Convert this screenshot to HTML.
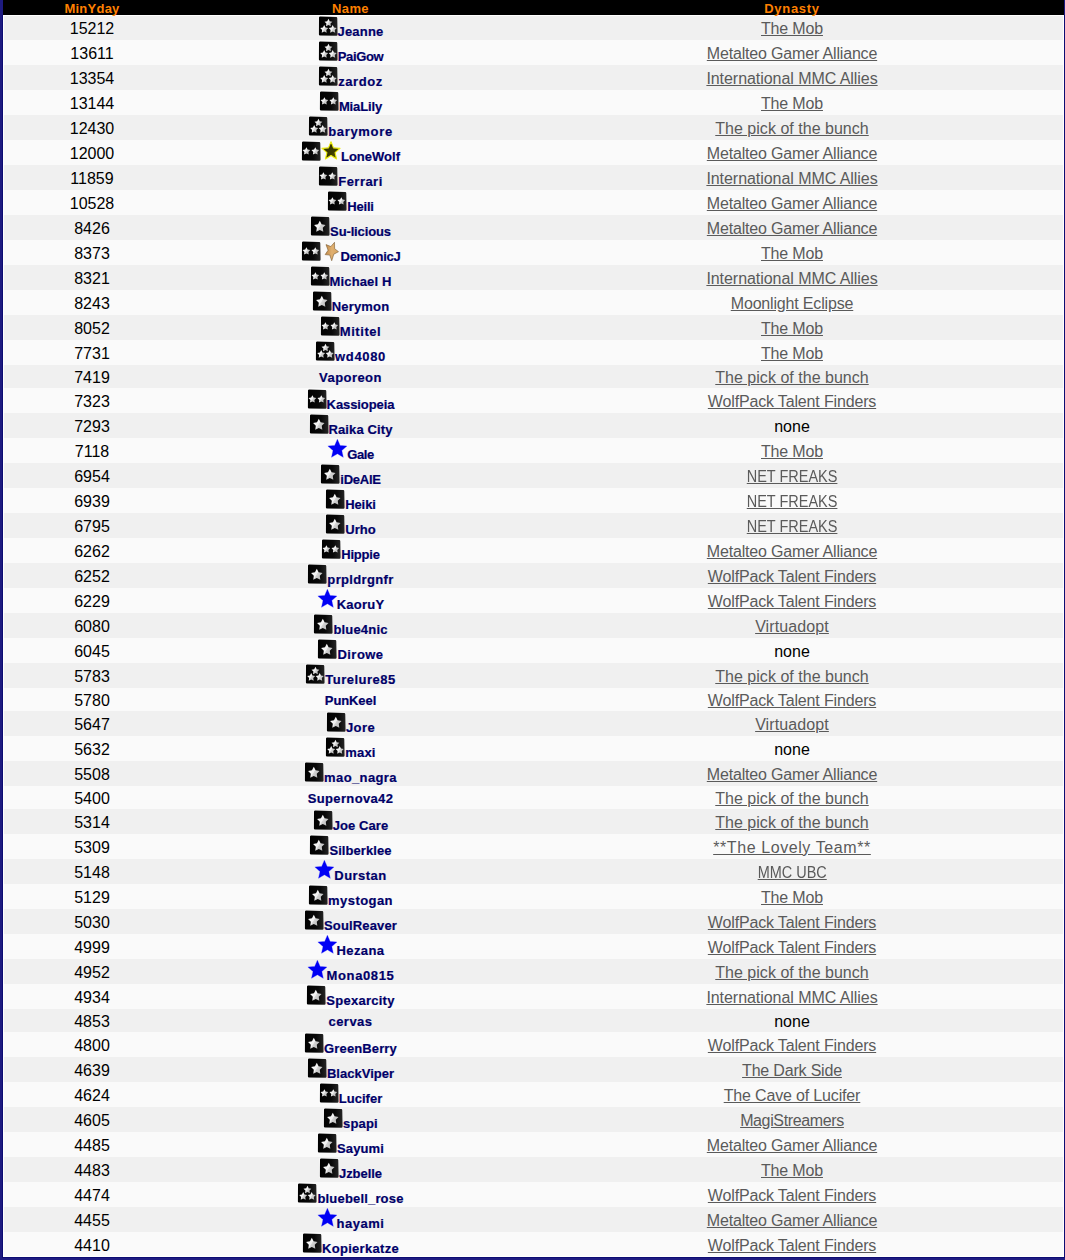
<!DOCTYPE html>
<html><head><meta charset="utf-8"><title>MinYday</title><style>
*{margin:0;padding:0;box-sizing:border-box}
html,body{width:1065px;height:1260px;overflow:hidden;background:#1e1b80}
body{position:relative;font-family:"Liberation Sans",sans-serif}
#dk{position:absolute;left:2px;top:15px;width:1063px;height:1243px;background:#0d0c72}
#wrap{position:absolute;left:3px;top:0;width:1061px;height:1257px;background:#fff}
#hd{position:absolute;left:3px;top:0;width:1061px;height:15px;background:#000;color:#ff8000;font-weight:bold;font-size:13px;line-height:15px;display:flex}
#hd div{text-align:center;height:15px;padding-top:1px}
#hd .h1{letter-spacing:.25px}#hd .h2{letter-spacing:.35px}#hd .h3{letter-spacing:.7px}
#rows{position:absolute;left:3px;top:15px;width:1061px}
.r{display:flex;width:1061px}
.o{background:#f0f0f0}.e{background:#fafafa}
.ri{height:25px}.rn{height:23px}
.c1,.h1{width:178px}.c2,.h2{width:339px}.c3,.h3{width:544px}
.c1,.c3{text-align:center;font-size:16px;color:#000;white-space:nowrap}
.ri .c1,.ri .c3{line-height:25px;padding-top:1px}
.rn .c1,.rn .c3{line-height:23px;padding-top:1px}
.c3 a{color:#5a5a5a;text-decoration:underline}
.c2{text-align:center;white-space:nowrap;font-size:13px;color:#000068}
.c2 b{-webkit-text-stroke:.2px #000068}

.ri .c2{line-height:20px;padding-top:1px}
.rn .c2{line-height:23px;padding-top:1px}
.ic{width:20px;height:20px;vertical-align:baseline;display:inline-block}
#fr{position:absolute;left:3px;top:15px;width:1061px;height:1242px;border:1px solid #fff;pointer-events:none}
</style></head>
<body>
<svg width="0" height="0" style="position:absolute">
<defs>
<filter id="bl" x="-20%" y="-20%" width="140%" height="140%"><feGaussianBlur stdDeviation="0.35"/></filter>
<linearGradient id="bg" x1="0" y1="0" x2="1" y2="0"><stop offset="0" stop-color="#000"/><stop offset="0.6" stop-color="#080808"/><stop offset="1" stop-color="#262626"/></linearGradient>
<linearGradient id="sg" x1="0" y1="0.2" x2="1" y2="0.8"><stop offset="0" stop-color="#fbfbfb"/><stop offset="0.48" stop-color="#f0f0f0"/><stop offset="0.52" stop-color="#d6d6d6"/><stop offset="1" stop-color="#b4b4b4"/></linearGradient>
<symbol id="sq" viewBox="0 0 20 20" overflow="visible"><path d="M0.3 0 L19.8 0.4 L20.2 20.3 L0.2 20.2 Z" fill="#fff" opacity=".55"/><path d="M1.0 1.5 Q1.1 0.6 2.2 0.6 L18.2 1.0 Q19.3 1.1 19.3 2.2 L19.6 18.6 Q19.6 19.8 18.5 19.8 L2.0 19.5 Q0.9 19.4 0.9 18.4 Z" fill="url(#bg)"/></symbol>
<symbol id="st" viewBox="-1 -1 2 2"><path d="M0,-1 L0.235,-0.324 L0.951,-0.309 L0.380,0.124 L0.588,0.809 L0,0.4 L-0.588,0.809 L-0.380,0.124 L-0.951,-0.309 L-0.235,-0.324 Z" fill="url(#sg)"/></symbol>
</defs></svg>

<div id="dk"></div>
<div id="wrap"></div>
<div id="rows"><div class="r o ri"><div class="c1">15212</div><div class="c2"><svg class="ic" viewBox="0 0 20 20"><use href="#sq" x="0" y="0" width="20" height="20"/><path d="M10.45,2.80 L11.70,5.18 L14.35,5.63 L12.48,7.56 L12.86,10.22 L10.45,9.03 L8.04,10.22 L8.42,7.56 L6.55,5.63 L9.20,5.18Z" fill="url(#sg)"/><path d="M6.20,9.10 L7.48,11.53 L10.19,12.00 L8.28,13.97 L8.67,16.70 L6.20,15.48 L3.73,16.70 L4.12,13.97 L2.21,12.00 L4.92,11.53Z" fill="url(#sg)"/><path d="M14.70,9.10 L15.98,11.53 L18.69,12.00 L16.78,13.97 L17.17,16.70 L14.70,15.48 L12.23,16.70 L12.62,13.97 L10.71,12.00 L13.42,11.53Z" fill="url(#sg)"/></svg><b style="letter-spacing:0.18px">Jeanne</b></div><div class="c3"><a style="letter-spacing:-0.17px">The Mob</a></div></div><div class="r e ri"><div class="c1">13611</div><div class="c2"><svg class="ic" viewBox="0 0 20 20"><use href="#sq" x="0" y="0" width="20" height="20"/><path d="M10.45,2.80 L11.70,5.18 L14.35,5.63 L12.48,7.56 L12.86,10.22 L10.45,9.03 L8.04,10.22 L8.42,7.56 L6.55,5.63 L9.20,5.18Z" fill="url(#sg)"/><path d="M6.20,9.10 L7.48,11.53 L10.19,12.00 L8.28,13.97 L8.67,16.70 L6.20,15.48 L3.73,16.70 L4.12,13.97 L2.21,12.00 L4.92,11.53Z" fill="url(#sg)"/><path d="M14.70,9.10 L15.98,11.53 L18.69,12.00 L16.78,13.97 L17.17,16.70 L14.70,15.48 L12.23,16.70 L12.62,13.97 L10.71,12.00 L13.42,11.53Z" fill="url(#sg)"/></svg><b style="letter-spacing:-0.34px">PaiGow</b></div><div class="c3"><a style="letter-spacing:-0.172px">Metalteo Gamer Alliance</a></div></div><div class="r o ri"><div class="c1">13354</div><div class="c2"><svg class="ic" viewBox="0 0 20 20"><use href="#sq" x="0" y="0" width="20" height="20"/><path d="M10.45,2.80 L11.70,5.18 L14.35,5.63 L12.48,7.56 L12.86,10.22 L10.45,9.03 L8.04,10.22 L8.42,7.56 L6.55,5.63 L9.20,5.18Z" fill="url(#sg)"/><path d="M6.20,9.10 L7.48,11.53 L10.19,12.00 L8.28,13.97 L8.67,16.70 L6.20,15.48 L3.73,16.70 L4.12,13.97 L2.21,12.00 L4.92,11.53Z" fill="url(#sg)"/><path d="M14.70,9.10 L15.98,11.53 L18.69,12.00 L16.78,13.97 L17.17,16.70 L14.70,15.48 L12.23,16.70 L12.62,13.97 L10.71,12.00 L13.42,11.53Z" fill="url(#sg)"/></svg><b style="letter-spacing:0.54px">zardoz</b></div><div class="c3"><a style="letter-spacing:-0.053px">International MMC Allies</a></div></div><div class="r e ri"><div class="c1">13144</div><div class="c2"><svg class="ic" viewBox="0 0 20 20"><use href="#sq" x="0" y="0" width="20" height="20"/><path d="M5.40,6.25 L6.64,8.60 L9.25,9.05 L7.40,10.95 L7.78,13.58 L5.40,12.41 L3.02,13.58 L3.40,10.95 L1.55,9.05 L4.16,8.60Z" fill="url(#sg)"/><path d="M14.30,6.25 L15.54,8.60 L18.15,9.05 L16.30,10.95 L16.68,13.58 L14.30,12.41 L11.92,13.58 L12.30,10.95 L10.45,9.05 L13.06,8.60Z" fill="url(#sg)"/></svg><b style="letter-spacing:-0.133px">MiaLily</b></div><div class="c3"><a style="letter-spacing:-0.17px">The Mob</a></div></div><div class="r o ri"><div class="c1">12430</div><div class="c2"><svg class="ic" viewBox="0 0 20 20"><use href="#sq" x="0" y="0" width="20" height="20"/><path d="M10.45,2.80 L11.70,5.18 L14.35,5.63 L12.48,7.56 L12.86,10.22 L10.45,9.03 L8.04,10.22 L8.42,7.56 L6.55,5.63 L9.20,5.18Z" fill="url(#sg)"/><path d="M6.20,9.10 L7.48,11.53 L10.19,12.00 L8.28,13.97 L8.67,16.70 L6.20,15.48 L3.73,16.70 L4.12,13.97 L2.21,12.00 L4.92,11.53Z" fill="url(#sg)"/><path d="M14.70,9.10 L15.98,11.53 L18.69,12.00 L16.78,13.97 L17.17,16.70 L14.70,15.48 L12.23,16.70 L12.62,13.97 L10.71,12.00 L13.42,11.53Z" fill="url(#sg)"/></svg><b style="letter-spacing:0.671px">barymore</b></div><div class="c3"><a style="letter-spacing:0.023px">The pick of the bunch</a></div></div><div class="r e ri"><div class="c1">12000</div><div class="c2"><svg class="ic" viewBox="0 0 20 20"><use href="#sq" x="0" y="0" width="20" height="20"/><path d="M5.40,6.25 L6.64,8.60 L9.25,9.05 L7.40,10.95 L7.78,13.58 L5.40,12.41 L3.02,13.58 L3.40,10.95 L1.55,9.05 L4.16,8.60Z" fill="url(#sg)"/><path d="M14.30,6.25 L15.54,8.60 L18.15,9.05 L16.30,10.95 L16.68,13.58 L14.30,12.41 L11.92,13.58 L12.30,10.95 L10.45,9.05 L13.06,8.60Z" fill="url(#sg)"/></svg><svg class="ic" viewBox="0 0 20 20" overflow="visible"><defs><linearGradient id="yg" x1="0" y1="0" x2="1" y2="1"><stop offset="0" stop-color="#2c2c00"/><stop offset=".6" stop-color="#3c3c00"/><stop offset="1" stop-color="#6a6a08"/></linearGradient></defs><path d="M10.00,0.80 L12.51,6.84 L19.04,7.36 L14.07,11.62 L15.58,17.99 L10.00,14.58 L4.42,17.99 L5.93,11.62 L0.96,7.36 L7.49,6.84Z" fill="url(#yg)" stroke="#eeee10" stroke-width="1.1" stroke-linejoin="round"/></svg><b style="letter-spacing:0.014px">LoneWolf</b></div><div class="c3"><a style="letter-spacing:-0.172px">Metalteo Gamer Alliance</a></div></div><div class="r o ri"><div class="c1">11859</div><div class="c2"><svg class="ic" viewBox="0 0 20 20"><use href="#sq" x="0" y="0" width="20" height="20"/><path d="M5.40,6.25 L6.64,8.60 L9.25,9.05 L7.40,10.95 L7.78,13.58 L5.40,12.41 L3.02,13.58 L3.40,10.95 L1.55,9.05 L4.16,8.60Z" fill="url(#sg)"/><path d="M14.30,6.25 L15.54,8.60 L18.15,9.05 L16.30,10.95 L16.68,13.58 L14.30,12.41 L11.92,13.58 L12.30,10.95 L10.45,9.05 L13.06,8.60Z" fill="url(#sg)"/></svg><b style="letter-spacing:0.467px">Ferrari</b></div><div class="c3"><a style="letter-spacing:-0.053px">International MMC Allies</a></div></div><div class="r e ri"><div class="c1">10528</div><div class="c2"><svg class="ic" viewBox="0 0 20 20"><use href="#sq" x="0" y="0" width="20" height="20"/><path d="M5.40,6.25 L6.64,8.60 L9.25,9.05 L7.40,10.95 L7.78,13.58 L5.40,12.41 L3.02,13.58 L3.40,10.95 L1.55,9.05 L4.16,8.60Z" fill="url(#sg)"/><path d="M14.30,6.25 L15.54,8.60 L18.15,9.05 L16.30,10.95 L16.68,13.58 L14.30,12.41 L11.92,13.58 L12.30,10.95 L10.45,9.05 L13.06,8.60Z" fill="url(#sg)"/></svg><b style="letter-spacing:-0.225px">Heili</b></div><div class="c3"><a style="letter-spacing:-0.172px">Metalteo Gamer Alliance</a></div></div><div class="r o ri"><div class="c1">8426</div><div class="c2"><svg class="ic" viewBox="0 0 20 20"><use href="#sq" x="0" y="0" width="20" height="20"/><path d="M9.80,4.85 L11.63,8.33 L15.51,9.00 L12.77,11.81 L13.33,15.70 L9.80,13.97 L6.27,15.70 L6.83,11.81 L4.09,9.00 L7.97,8.33Z" fill="url(#sg)"/></svg><b style="letter-spacing:-0.133px">Su-licious</b></div><div class="c3"><a style="letter-spacing:-0.172px">Metalteo Gamer Alliance</a></div></div><div class="r e ri"><div class="c1">8373</div><div class="c2"><svg class="ic" viewBox="0 0 20 20"><use href="#sq" x="0" y="0" width="20" height="20"/><path d="M5.40,6.25 L6.64,8.60 L9.25,9.05 L7.40,10.95 L7.78,13.58 L5.40,12.41 L3.02,13.58 L3.40,10.95 L1.55,9.05 L4.16,8.60Z" fill="url(#sg)"/><path d="M14.30,6.25 L15.54,8.60 L18.15,9.05 L16.30,10.95 L16.68,13.58 L14.30,12.41 L11.92,13.58 L12.30,10.95 L10.45,9.05 L13.06,8.60Z" fill="url(#sg)"/></svg><svg class="ic" viewBox="0 0 20 20" overflow="visible"><defs><linearGradient id="gg" x1="0" y1="0" x2="1" y2="0"><stop offset="0" stop-color="#c08a4a"/><stop offset=".5" stop-color="#e0b070"/><stop offset="1" stop-color="#d8a460"/></linearGradient></defs><path d="M13.50,1.30 L13.62,7.68 L17.50,10.70 L12.78,13.20 L10.70,19.70 L8.79,14.07 L4.20,13.60 L7.08,9.24 L5.00,3.60 L9.87,5.55Z" fill="url(#gg)" stroke="#7a5a30" stroke-width=".6" stroke-linejoin="round"/></svg><b style="letter-spacing:-0.271px">DemonicJ</b></div><div class="c3"><a style="letter-spacing:-0.17px">The Mob</a></div></div><div class="r o ri"><div class="c1">8321</div><div class="c2"><svg class="ic" viewBox="0 0 20 20"><use href="#sq" x="0" y="0" width="20" height="20"/><path d="M5.40,6.25 L6.64,8.60 L9.25,9.05 L7.40,10.95 L7.78,13.58 L5.40,12.41 L3.02,13.58 L3.40,10.95 L1.55,9.05 L4.16,8.60Z" fill="url(#sg)"/><path d="M14.30,6.25 L15.54,8.60 L18.15,9.05 L16.30,10.95 L16.68,13.58 L14.30,12.41 L11.92,13.58 L12.30,10.95 L10.45,9.05 L13.06,8.60Z" fill="url(#sg)"/></svg><b style="letter-spacing:0.125px">Michael H</b></div><div class="c3"><a style="letter-spacing:-0.053px">International MMC Allies</a></div></div><div class="r e ri"><div class="c1">8243</div><div class="c2"><svg class="ic" viewBox="0 0 20 20"><use href="#sq" x="0" y="0" width="20" height="20"/><path d="M9.80,4.85 L11.63,8.33 L15.51,9.00 L12.77,11.81 L13.33,15.70 L9.80,13.97 L6.27,15.70 L6.83,11.81 L4.09,9.00 L7.97,8.33Z" fill="url(#sg)"/></svg><b style="letter-spacing:0.183px">Nerymon</b></div><div class="c3"><a style="letter-spacing:-0.171px">Moonlight Eclipse</a></div></div><div class="r o ri"><div class="c1">8052</div><div class="c2"><svg class="ic" viewBox="0 0 20 20"><use href="#sq" x="0" y="0" width="20" height="20"/><path d="M5.40,6.25 L6.64,8.60 L9.25,9.05 L7.40,10.95 L7.78,13.58 L5.40,12.41 L3.02,13.58 L3.40,10.95 L1.55,9.05 L4.16,8.60Z" fill="url(#sg)"/><path d="M14.30,6.25 L15.54,8.60 L18.15,9.05 L16.30,10.95 L16.68,13.58 L14.30,12.41 L11.92,13.58 L12.30,10.95 L10.45,9.05 L13.06,8.60Z" fill="url(#sg)"/></svg><b style="letter-spacing:0.567px">Mititel</b></div><div class="c3"><a style="letter-spacing:-0.17px">The Mob</a></div></div><div class="r e ri"><div class="c1">7731</div><div class="c2"><svg class="ic" viewBox="0 0 20 20"><use href="#sq" x="0" y="0" width="20" height="20"/><path d="M10.45,2.80 L11.70,5.18 L14.35,5.63 L12.48,7.56 L12.86,10.22 L10.45,9.03 L8.04,10.22 L8.42,7.56 L6.55,5.63 L9.20,5.18Z" fill="url(#sg)"/><path d="M6.20,9.10 L7.48,11.53 L10.19,12.00 L8.28,13.97 L8.67,16.70 L6.20,15.48 L3.73,16.70 L4.12,13.97 L2.21,12.00 L4.92,11.53Z" fill="url(#sg)"/><path d="M14.70,9.10 L15.98,11.53 L18.69,12.00 L16.78,13.97 L17.17,16.70 L14.70,15.48 L12.23,16.70 L12.62,13.97 L10.71,12.00 L13.42,11.53Z" fill="url(#sg)"/></svg><b style="letter-spacing:0.64px">wd4080</b></div><div class="c3"><a style="letter-spacing:-0.17px">The Mob</a></div></div><div class="r o rn"><div class="c1">7419</div><div class="c2"><b style="letter-spacing:0.443px">Vaporeon</b></div><div class="c3"><a style="letter-spacing:0.023px">The pick of the bunch</a></div></div><div class="r e ri"><div class="c1">7323</div><div class="c2"><svg class="ic" viewBox="0 0 20 20"><use href="#sq" x="0" y="0" width="20" height="20"/><path d="M5.40,6.25 L6.64,8.60 L9.25,9.05 L7.40,10.95 L7.78,13.58 L5.40,12.41 L3.02,13.58 L3.40,10.95 L1.55,9.05 L4.16,8.60Z" fill="url(#sg)"/><path d="M14.30,6.25 L15.54,8.60 L18.15,9.05 L16.30,10.95 L16.68,13.58 L14.30,12.41 L11.92,13.58 L12.30,10.95 L10.45,9.05 L13.06,8.60Z" fill="url(#sg)"/></svg><b style="letter-spacing:-0.089px">Kassiopeia</b></div><div class="c3"><a style="letter-spacing:-0.156px">WolfPack Talent Finders</a></div></div><div class="r o ri"><div class="c1">7293</div><div class="c2"><svg class="ic" viewBox="0 0 20 20"><use href="#sq" x="0" y="0" width="20" height="20"/><path d="M9.80,4.85 L11.63,8.33 L15.51,9.00 L12.77,11.81 L13.33,15.70 L9.80,13.97 L6.27,15.70 L6.83,11.81 L4.09,9.00 L7.97,8.33Z" fill="url(#sg)"/></svg><b style="letter-spacing:0.111px">Raika City</b></div><div class="c3"><span class="none">none</span></div></div><div class="r e ri"><div class="c1">7118</div><div class="c2"><svg class="ic" viewBox="0 0 20 20" overflow="visible"><path d="M10.40,0.20 L13.10,6.48 L19.91,7.11 L14.77,11.62 L16.28,18.29 L10.40,14.80 L4.52,18.29 L6.03,11.62 L0.89,7.11 L7.70,6.48Z" fill="#0000f4" stroke="#1a1aff" stroke-width="0.6" stroke-opacity=".5" filter="url(#bl)"/></svg><b style="letter-spacing:-0.433px">Gale</b></div><div class="c3"><a style="letter-spacing:-0.17px">The Mob</a></div></div><div class="r o ri"><div class="c1">6954</div><div class="c2"><svg class="ic" viewBox="0 0 20 20"><use href="#sq" x="0" y="0" width="20" height="20"/><path d="M9.80,4.85 L11.63,8.33 L15.51,9.00 L12.77,11.81 L13.33,15.70 L9.80,13.97 L6.27,15.70 L6.83,11.81 L4.09,9.00 L7.97,8.33Z" fill="url(#sg)"/></svg><b style="letter-spacing:-0.26px">iDeAlE</b></div><div class="c3"><a style="display:inline-block;transform:scaleX(0.9050)">NET FREAKS</a></div></div><div class="r e ri"><div class="c1">6939</div><div class="c2"><svg class="ic" viewBox="0 0 20 20"><use href="#sq" x="0" y="0" width="20" height="20"/><path d="M9.80,4.85 L11.63,8.33 L15.51,9.00 L12.77,11.81 L13.33,15.70 L9.80,13.97 L6.27,15.70 L6.83,11.81 L4.09,9.00 L7.97,8.33Z" fill="url(#sg)"/></svg><b style="letter-spacing:-0.075px">Heiki</b></div><div class="c3"><a style="display:inline-block;transform:scaleX(0.9050)">NET FREAKS</a></div></div><div class="r o ri"><div class="c1">6795</div><div class="c2"><svg class="ic" viewBox="0 0 20 20"><use href="#sq" x="0" y="0" width="20" height="20"/><path d="M9.80,4.85 L11.63,8.33 L15.51,9.00 L12.77,11.81 L13.33,15.70 L9.80,13.97 L6.27,15.70 L6.83,11.81 L4.09,9.00 L7.97,8.33Z" fill="url(#sg)"/></svg><b style="letter-spacing:0.0px">Urho</b></div><div class="c3"><a style="display:inline-block;transform:scaleX(0.9050)">NET FREAKS</a></div></div><div class="r e ri"><div class="c1">6262</div><div class="c2"><svg class="ic" viewBox="0 0 20 20"><use href="#sq" x="0" y="0" width="20" height="20"/><path d="M5.40,6.25 L6.64,8.60 L9.25,9.05 L7.40,10.95 L7.78,13.58 L5.40,12.41 L3.02,13.58 L3.40,10.95 L1.55,9.05 L4.16,8.60Z" fill="url(#sg)"/><path d="M14.30,6.25 L15.54,8.60 L18.15,9.05 L16.30,10.95 L16.68,13.58 L14.30,12.41 L11.92,13.58 L12.30,10.95 L10.45,9.05 L13.06,8.60Z" fill="url(#sg)"/></svg><b style="letter-spacing:-0.24px">Hippie</b></div><div class="c3"><a style="letter-spacing:-0.172px">Metalteo Gamer Alliance</a></div></div><div class="r o ri"><div class="c1">6252</div><div class="c2"><svg class="ic" viewBox="0 0 20 20"><use href="#sq" x="0" y="0" width="20" height="20"/><path d="M9.80,4.85 L11.63,8.33 L15.51,9.00 L12.77,11.81 L13.33,15.70 L9.80,13.97 L6.27,15.70 L6.83,11.81 L4.09,9.00 L7.97,8.33Z" fill="url(#sg)"/></svg><b style="letter-spacing:0.344px">prpldrgnfr</b></div><div class="c3"><a style="letter-spacing:-0.156px">WolfPack Talent Finders</a></div></div><div class="r e ri"><div class="c1">6229</div><div class="c2"><svg class="ic" viewBox="0 0 20 20" overflow="visible"><path d="M10.40,0.20 L13.10,6.48 L19.91,7.11 L14.77,11.62 L16.28,18.29 L10.40,14.80 L4.52,18.29 L6.03,11.62 L0.89,7.11 L7.70,6.48Z" fill="#0000f4" stroke="#1a1aff" stroke-width="0.6" stroke-opacity=".5" filter="url(#bl)"/></svg><b style="letter-spacing:0.22px">KaoruY</b></div><div class="c3"><a style="letter-spacing:-0.156px">WolfPack Talent Finders</a></div></div><div class="r o ri"><div class="c1">6080</div><div class="c2"><svg class="ic" viewBox="0 0 20 20"><use href="#sq" x="0" y="0" width="20" height="20"/><path d="M9.80,4.85 L11.63,8.33 L15.51,9.00 L12.77,11.81 L13.33,15.70 L9.80,13.97 L6.27,15.70 L6.83,11.81 L4.09,9.00 L7.97,8.33Z" fill="url(#sg)"/></svg><b style="letter-spacing:0.186px">blue4nic</b></div><div class="c3"><a style="letter-spacing:0.108px">Virtuadopt</a></div></div><div class="r e ri"><div class="c1">6045</div><div class="c2"><svg class="ic" viewBox="0 0 20 20"><use href="#sq" x="0" y="0" width="20" height="20"/><path d="M9.80,4.85 L11.63,8.33 L15.51,9.00 L12.77,11.81 L13.33,15.70 L9.80,13.97 L6.27,15.70 L6.83,11.81 L4.09,9.00 L7.97,8.33Z" fill="url(#sg)"/></svg><b style="letter-spacing:0.46px">Dirowe</b></div><div class="c3"><span class="none">none</span></div></div><div class="r o ri"><div class="c1">5783</div><div class="c2"><svg class="ic" viewBox="0 0 20 20"><use href="#sq" x="0" y="0" width="20" height="20"/><path d="M10.45,2.80 L11.70,5.18 L14.35,5.63 L12.48,7.56 L12.86,10.22 L10.45,9.03 L8.04,10.22 L8.42,7.56 L6.55,5.63 L9.20,5.18Z" fill="url(#sg)"/><path d="M6.20,9.10 L7.48,11.53 L10.19,12.00 L8.28,13.97 L8.67,16.70 L6.20,15.48 L3.73,16.70 L4.12,13.97 L2.21,12.00 L4.92,11.53Z" fill="url(#sg)"/><path d="M14.70,9.10 L15.98,11.53 L18.69,12.00 L16.78,13.97 L17.17,16.70 L14.70,15.48 L12.23,16.70 L12.62,13.97 L10.71,12.00 L13.42,11.53Z" fill="url(#sg)"/></svg><b style="letter-spacing:0.489px">Turelure85</b></div><div class="c3"><a style="letter-spacing:0.023px">The pick of the bunch</a></div></div><div class="r e rn"><div class="c1">5780</div><div class="c2"><b style="letter-spacing:-0.1px">PunKeel</b></div><div class="c3"><a style="letter-spacing:-0.156px">WolfPack Talent Finders</a></div></div><div class="r o ri"><div class="c1">5647</div><div class="c2"><svg class="ic" viewBox="0 0 20 20"><use href="#sq" x="0" y="0" width="20" height="20"/><path d="M9.80,4.85 L11.63,8.33 L15.51,9.00 L12.77,11.81 L13.33,15.70 L9.80,13.97 L6.27,15.70 L6.83,11.81 L4.09,9.00 L7.97,8.33Z" fill="url(#sg)"/></svg><b style="letter-spacing:0.4px">Jore</b></div><div class="c3"><a style="letter-spacing:0.108px">Virtuadopt</a></div></div><div class="r e ri"><div class="c1">5632</div><div class="c2"><svg class="ic" viewBox="0 0 20 20"><use href="#sq" x="0" y="0" width="20" height="20"/><path d="M10.45,2.80 L11.70,5.18 L14.35,5.63 L12.48,7.56 L12.86,10.22 L10.45,9.03 L8.04,10.22 L8.42,7.56 L6.55,5.63 L9.20,5.18Z" fill="url(#sg)"/><path d="M6.20,9.10 L7.48,11.53 L10.19,12.00 L8.28,13.97 L8.67,16.70 L6.20,15.48 L3.73,16.70 L4.12,13.97 L2.21,12.00 L4.92,11.53Z" fill="url(#sg)"/><path d="M14.70,9.10 L15.98,11.53 L18.69,12.00 L16.78,13.97 L17.17,16.70 L14.70,15.48 L12.23,16.70 L12.62,13.97 L10.71,12.00 L13.42,11.53Z" fill="url(#sg)"/></svg><b style="letter-spacing:0.167px">maxi</b></div><div class="c3"><span class="none">none</span></div></div><div class="r o ri"><div class="c1">5508</div><div class="c2"><svg class="ic" viewBox="0 0 20 20"><use href="#sq" x="0" y="0" width="20" height="20"/><path d="M9.80,4.85 L11.63,8.33 L15.51,9.00 L12.77,11.81 L13.33,15.70 L9.80,13.97 L6.27,15.70 L6.83,11.81 L4.09,9.00 L7.97,8.33Z" fill="url(#sg)"/></svg><b style="letter-spacing:0.388px">mao_nagra</b></div><div class="c3"><a style="letter-spacing:-0.172px">Metalteo Gamer Alliance</a></div></div><div class="r e rn"><div class="c1">5400</div><div class="c2"><b style="letter-spacing:0.36px">Supernova42</b></div><div class="c3"><a style="letter-spacing:0.023px">The pick of the bunch</a></div></div><div class="r o ri"><div class="c1">5314</div><div class="c2"><svg class="ic" viewBox="0 0 20 20"><use href="#sq" x="0" y="0" width="20" height="20"/><path d="M9.80,4.85 L11.63,8.33 L15.51,9.00 L12.77,11.81 L13.33,15.70 L9.80,13.97 L6.27,15.70 L6.83,11.81 L4.09,9.00 L7.97,8.33Z" fill="url(#sg)"/></svg><b style="letter-spacing:0.086px">Joe Care</b></div><div class="c3"><a style="letter-spacing:0.023px">The pick of the bunch</a></div></div><div class="r e ri"><div class="c1">5309</div><div class="c2"><svg class="ic" viewBox="0 0 20 20"><use href="#sq" x="0" y="0" width="20" height="20"/><path d="M9.80,4.85 L11.63,8.33 L15.51,9.00 L12.77,11.81 L13.33,15.70 L9.80,13.97 L6.27,15.70 L6.83,11.81 L4.09,9.00 L7.97,8.33Z" fill="url(#sg)"/></svg><b style="letter-spacing:0.067px">Silberklee</b></div><div class="c3"><a style="letter-spacing:0.59px">**The Lovely Team**</a></div></div><div class="r o ri"><div class="c1">5148</div><div class="c2"><svg class="ic" viewBox="0 0 20 20" overflow="visible"><path d="M10.40,0.20 L13.10,6.48 L19.91,7.11 L14.77,11.62 L16.28,18.29 L10.40,14.80 L4.52,18.29 L6.03,11.62 L0.89,7.11 L7.70,6.48Z" fill="#0000f4" stroke="#1a1aff" stroke-width="0.6" stroke-opacity=".5" filter="url(#bl)"/></svg><b style="letter-spacing:0.45px">Durstan</b></div><div class="c3"><a style="display:inline-block;transform:scaleX(0.9036)">MMC UBC</a></div></div><div class="r e ri"><div class="c1">5129</div><div class="c2"><svg class="ic" viewBox="0 0 20 20"><use href="#sq" x="0" y="0" width="20" height="20"/><path d="M9.80,4.85 L11.63,8.33 L15.51,9.00 L12.77,11.81 L13.33,15.70 L9.80,13.97 L6.27,15.70 L6.83,11.81 L4.09,9.00 L7.97,8.33Z" fill="url(#sg)"/></svg><b style="letter-spacing:0.429px">mystogan</b></div><div class="c3"><a style="letter-spacing:-0.17px">The Mob</a></div></div><div class="r o ri"><div class="c1">5030</div><div class="c2"><svg class="ic" viewBox="0 0 20 20"><use href="#sq" x="0" y="0" width="20" height="20"/><path d="M9.80,4.85 L11.63,8.33 L15.51,9.00 L12.77,11.81 L13.33,15.70 L9.80,13.97 L6.27,15.70 L6.83,11.81 L4.09,9.00 L7.97,8.33Z" fill="url(#sg)"/></svg><b style="letter-spacing:0.156px">SoulReaver</b></div><div class="c3"><a style="letter-spacing:-0.156px">WolfPack Talent Finders</a></div></div><div class="r e ri"><div class="c1">4999</div><div class="c2"><svg class="ic" viewBox="0 0 20 20" overflow="visible"><path d="M10.40,0.20 L13.10,6.48 L19.91,7.11 L14.77,11.62 L16.28,18.29 L10.40,14.80 L4.52,18.29 L6.03,11.62 L0.89,7.11 L7.70,6.48Z" fill="#0000f4" stroke="#1a1aff" stroke-width="0.6" stroke-opacity=".5" filter="url(#bl)"/></svg><b style="letter-spacing:0.4px">Hezana</b></div><div class="c3"><a style="letter-spacing:-0.156px">WolfPack Talent Finders</a></div></div><div class="r o ri"><div class="c1">4952</div><div class="c2"><svg class="ic" viewBox="0 0 20 20" overflow="visible"><path d="M10.40,0.20 L13.10,6.48 L19.91,7.11 L14.77,11.62 L16.28,18.29 L10.40,14.80 L4.52,18.29 L6.03,11.62 L0.89,7.11 L7.70,6.48Z" fill="#0000f4" stroke="#1a1aff" stroke-width="0.6" stroke-opacity=".5" filter="url(#bl)"/></svg><b style="letter-spacing:0.629px">Mona0815</b></div><div class="c3"><a style="letter-spacing:0.023px">The pick of the bunch</a></div></div><div class="r e ri"><div class="c1">4934</div><div class="c2"><svg class="ic" viewBox="0 0 20 20"><use href="#sq" x="0" y="0" width="20" height="20"/><path d="M9.80,4.85 L11.63,8.33 L15.51,9.00 L12.77,11.81 L13.33,15.70 L9.80,13.97 L6.27,15.70 L6.83,11.81 L4.09,9.00 L7.97,8.33Z" fill="url(#sg)"/></svg><b style="letter-spacing:0.256px">Spexarcity</b></div><div class="c3"><a style="letter-spacing:-0.053px">International MMC Allies</a></div></div><div class="r o rn"><div class="c1">4853</div><div class="c2"><b style="letter-spacing:0.48px">cervas</b></div><div class="c3"><span class="none">none</span></div></div><div class="r e ri"><div class="c1">4800</div><div class="c2"><svg class="ic" viewBox="0 0 20 20"><use href="#sq" x="0" y="0" width="20" height="20"/><path d="M9.80,4.85 L11.63,8.33 L15.51,9.00 L12.77,11.81 L13.33,15.70 L9.80,13.97 L6.27,15.70 L6.83,11.81 L4.09,9.00 L7.97,8.33Z" fill="url(#sg)"/></svg><b style="letter-spacing:0.122px">GreenBerry</b></div><div class="c3"><a style="letter-spacing:-0.156px">WolfPack Talent Finders</a></div></div><div class="r o ri"><div class="c1">4639</div><div class="c2"><svg class="ic" viewBox="0 0 20 20"><use href="#sq" x="0" y="0" width="20" height="20"/><path d="M9.80,4.85 L11.63,8.33 L15.51,9.00 L12.77,11.81 L13.33,15.70 L9.80,13.97 L6.27,15.70 L6.83,11.81 L4.09,9.00 L7.97,8.33Z" fill="url(#sg)"/></svg><b style="letter-spacing:0.022px">BlackViper</b></div><div class="c3"><a style="letter-spacing:-0.188px">The Dark Side</a></div></div><div class="r e ri"><div class="c1">4624</div><div class="c2"><svg class="ic" viewBox="0 0 20 20"><use href="#sq" x="0" y="0" width="20" height="20"/><path d="M5.40,6.25 L6.64,8.60 L9.25,9.05 L7.40,10.95 L7.78,13.58 L5.40,12.41 L3.02,13.58 L3.40,10.95 L1.55,9.05 L4.16,8.60Z" fill="url(#sg)"/><path d="M14.30,6.25 L15.54,8.60 L18.15,9.05 L16.30,10.95 L16.68,13.58 L14.30,12.41 L11.92,13.58 L12.30,10.95 L10.45,9.05 L13.06,8.60Z" fill="url(#sg)"/></svg><b style="letter-spacing:0.033px">Lucifer</b></div><div class="c3"><a style="letter-spacing:-0.161px">The Cave of Lucifer</a></div></div><div class="r o ri"><div class="c1">4605</div><div class="c2"><svg class="ic" viewBox="0 0 20 20"><use href="#sq" x="0" y="0" width="20" height="20"/><path d="M9.80,4.85 L11.63,8.33 L15.51,9.00 L12.77,11.81 L13.33,15.70 L9.80,13.97 L6.27,15.70 L6.83,11.81 L4.09,9.00 L7.97,8.33Z" fill="url(#sg)"/></svg><b style="letter-spacing:0.175px">spapi</b></div><div class="c3"><a style="letter-spacing:-0.364px">MagiStreamers</a></div></div><div class="r e ri"><div class="c1">4485</div><div class="c2"><svg class="ic" viewBox="0 0 20 20"><use href="#sq" x="0" y="0" width="20" height="20"/><path d="M9.80,4.85 L11.63,8.33 L15.51,9.00 L12.77,11.81 L13.33,15.70 L9.80,13.97 L6.27,15.70 L6.83,11.81 L4.09,9.00 L7.97,8.33Z" fill="url(#sg)"/></svg><b style="letter-spacing:0.14px">Sayumi</b></div><div class="c3"><a style="letter-spacing:-0.172px">Metalteo Gamer Alliance</a></div></div><div class="r o ri"><div class="c1">4483</div><div class="c2"><svg class="ic" viewBox="0 0 20 20"><use href="#sq" x="0" y="0" width="20" height="20"/><path d="M9.80,4.85 L11.63,8.33 L15.51,9.00 L12.77,11.81 L13.33,15.70 L9.80,13.97 L6.27,15.70 L6.83,11.81 L4.09,9.00 L7.97,8.33Z" fill="url(#sg)"/></svg><b style="letter-spacing:-0.033px">Jzbelle</b></div><div class="c3"><a style="letter-spacing:-0.17px">The Mob</a></div></div><div class="r e ri"><div class="c1">4474</div><div class="c2"><svg class="ic" viewBox="0 0 20 20"><use href="#sq" x="0" y="0" width="20" height="20"/><path d="M10.45,2.80 L11.70,5.18 L14.35,5.63 L12.48,7.56 L12.86,10.22 L10.45,9.03 L8.04,10.22 L8.42,7.56 L6.55,5.63 L9.20,5.18Z" fill="url(#sg)"/><path d="M6.20,9.10 L7.48,11.53 L10.19,12.00 L8.28,13.97 L8.67,16.70 L6.20,15.48 L3.73,16.70 L4.12,13.97 L2.21,12.00 L4.92,11.53Z" fill="url(#sg)"/><path d="M14.70,9.10 L15.98,11.53 L18.69,12.00 L16.78,13.97 L17.17,16.70 L14.70,15.48 L12.23,16.70 L12.62,13.97 L10.71,12.00 L13.42,11.53Z" fill="url(#sg)"/></svg><b style="letter-spacing:0.175px">bluebell_rose</b></div><div class="c3"><a style="letter-spacing:-0.156px">WolfPack Talent Finders</a></div></div><div class="r o ri"><div class="c1">4455</div><div class="c2"><svg class="ic" viewBox="0 0 20 20" overflow="visible"><path d="M10.40,0.20 L13.10,6.48 L19.91,7.11 L14.77,11.62 L16.28,18.29 L10.40,14.80 L4.52,18.29 L6.03,11.62 L0.89,7.11 L7.70,6.48Z" fill="#0000f4" stroke="#1a1aff" stroke-width="0.6" stroke-opacity=".5" filter="url(#bl)"/></svg><b style="letter-spacing:0.52px">hayami</b></div><div class="c3"><a style="letter-spacing:-0.172px">Metalteo Gamer Alliance</a></div></div><div class="r e ri"><div class="c1">4410</div><div class="c2"><svg class="ic" viewBox="0 0 20 20"><use href="#sq" x="0" y="0" width="20" height="20"/><path d="M9.80,4.85 L11.63,8.33 L15.51,9.00 L12.77,11.81 L13.33,15.70 L9.80,13.97 L6.27,15.70 L6.83,11.81 L4.09,9.00 L7.97,8.33Z" fill="url(#sg)"/></svg><b style="letter-spacing:0.3px">Kopierkatze</b></div><div class="c3"><a style="letter-spacing:-0.156px">WolfPack Talent Finders</a></div></div></div>
<div id="fr"></div>
<div id="hd"><div class="h1">MinYday</div><div class="h2">Name</div><div class="h3">Dynasty</div></div>
</body></html>
